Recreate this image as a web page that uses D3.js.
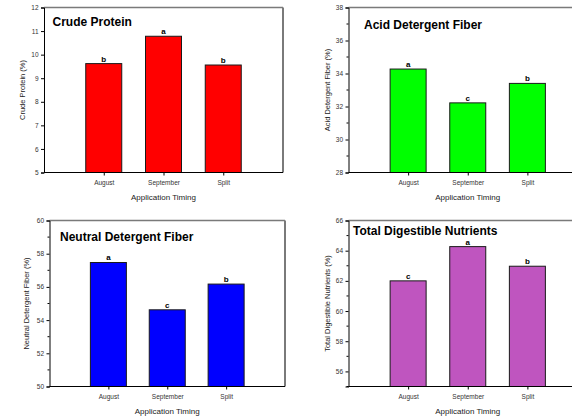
<!DOCTYPE html>
<html>
<head>
<meta charset="UTF-8">
<script src="https://cdnjs.cloudflare.com/ajax/libs/d3/7.8.5/d3.min.js"></script>
<style>
body { margin: 0; background: white; }
svg { display: block; font-family: 'Liberation Sans', Arial, sans-serif; }
</style>
</head>
<body>
<script>
// data
var categories = ["August", "September", "Split"];

var cpValues = [9.62, 10.78, 9.56];
var cpLetters = ["b", "a", "b"];

var adfValues = [34.27, 32.22, 33.40];
var adfLetters = ["a", "c", "b"];

var ndfValues = [57.47, 54.62, 56.17];
var ndfLetters = ["a", "c", "b"];

var tdnValues = [62.00, 64.27, 62.97];
var tdnLetters = ["c", "a", "b"];

var width = 572, height = 417;

var svg = d3.select("body").append("svg")
    .attr("width", width)
    .attr("height", height);

var panels = [
  { title: "Crude Protein", ylab: "Crude Protein (%)", values: cpValues, letters: cpLetters,
    fill: "#ff0000", domain: [5, 12], major: 1, minor: 0,
    x0: 44, x1: 283, y0: 7.5, y1: 172.5, tx: 52.5, ty: 25.5, yoff: 22 },
  { title: "Acid Detergent Fiber", ylab: "Acid Detergent Fiber (%)", values: adfValues, letters: adfLetters,
    fill: "#00ff00", domain: [28, 38], major: 2, minor: 1,
    x0: 348.5, x1: 587, y0: 7.5, y1: 172.5, tx: 364, ty: 29, yoff: 22 },
  { title: "Neutral Detergent Fiber", ylab: "Neutral Detergent Fiber (%)", values: ndfValues, letters: ndfLetters,
    fill: "#0000ff", domain: [50, 60], major: 2, minor: 1,
    x0: 49.5, x1: 285, y0: 220.5, y1: 386.5, tx: 60, ty: 240.5, yoff: 24 },
  { title: "Total Digestible Nutrients", ylab: "Total Digestible Nutrients (%)", values: tdnValues, letters: tdnLetters,
    fill: "#bf55bf", domain: [55, 66], major: 2, minor: 1,
    x0: 348.5, x1: 587, y0: 220.5, y1: 386.5, tx: 353, ty: 235, yoff: 22 }
];

panels.forEach(drawPanel);

function drawPanel(p) {
  var g = svg.append("g");

  var x = d3.scaleLinear().domain([0, categories.length + 1]).range([p.x0, p.x1]);
  var y = d3.scaleLinear().domain(p.domain).range([p.y1, p.y0]);
  var barW = 36;

  // frame top + right (grey)
  g.append("line")
      .attr("x1", p.x0).attr("x2", p.x1)
      .attr("y1", p.y0).attr("y2", p.y0)
      .attr("stroke", "#7a7a7a").attr("stroke-width", 1.5);
  g.append("line")
      .attr("x1", p.x1).attr("x2", p.x1)
      .attr("y1", p.y0).attr("y2", p.y1)
      .attr("stroke", "#7a7a7a").attr("stroke-width", 2);

  // bars
  g.selectAll("rect.bar")
      .data(p.values)
      .enter().append("rect")
      .attr("class", "bar")
      .attr("x", function(d, i) { return x(i + 1) - barW / 2; })
      .attr("y", function(d) { return y(d); })
      .attr("width", barW)
      .attr("height", function(d) { return y(p.domain[0]) - y(d); })
      .attr("fill", p.fill)
      .attr("stroke", "#1a1a1a")
      .attr("stroke-width", 1);

  // significance letters
  g.selectAll("text.letter")
      .data(p.values)
      .enter().append("text")
      .attr("class", "letter")
      .attr("x", function(d, i) { return x(i + 1); })
      .attr("y", function(d) { return y(d) - 2; })
      .attr("text-anchor", "middle")
      .attr("font-size", 8)
      .attr("font-weight", "bold")
      .text(function(d, i) { return p.letters[i]; });

  // y axis
  var majors = d3.range(Math.ceil(p.domain[0] / p.major) * p.major, p.domain[1] + 0.001, p.major);
  var yAxis = d3.axisLeft(y).tickValues(majors).tickSize(3).tickPadding(2.5)
      .tickFormat(d3.format("d"));
  var ya = g.append("g")
      .attr("transform", "translate(" + p.x0 + ",0)")
      .call(yAxis);
  ya.select(".domain").attr("stroke", "#000");
  ya.selectAll("text").attr("font-size", 6.5).attr("fill", "#333")
      .attr("font-family", "'Liberation Sans', Arial, sans-serif");

  if (p.minor) {
    var minors = d3.range(Math.ceil(p.domain[0]), p.domain[1], p.minor)
        .filter(function(v) { return majors.indexOf(v) < 0; });
    ya.selectAll("line.minor")
        .data(minors)
        .enter().append("line")
        .attr("class", "minor")
        .attr("x1", -2).attr("x2", 0)
        .attr("y1", function(d) { return y(d); })
        .attr("y2", function(d) { return y(d); })
        .attr("stroke", "#000");
  }

  // x axis
  var xAxis = d3.axisBottom(x).tickValues([1, 2, 3]).tickSize(3).tickPadding(4.5)
      .tickFormat(function(d) { return categories[d - 1]; });
  var xa = g.append("g")
      .attr("transform", "translate(0," + p.y1 + ")")
      .call(xAxis);
  xa.select(".domain").attr("d", "M" + p.x0 + ",0H" + p.x1).attr("stroke", "#000");
  xa.selectAll("text").attr("font-size", 6.5).attr("fill", "#333")
      .attr("font-family", "'Liberation Sans', Arial, sans-serif");

  // axis titles
  g.append("text")
      .attr("x", x(2))
      .attr("y", p.y1 + 27)
      .attr("text-anchor", "middle")
      .attr("font-size", 8)
      .attr("fill", "#222")
      .text("Application Timing");

  g.append("text")
      .attr("transform", "translate(" + (p.x0 - p.yoff + 3) + "," + ((p.y0 + p.y1) / 2) + ") rotate(-90)")
      .attr("text-anchor", "middle")
      .attr("font-size", 7.5)
      .attr("fill", "#222")
      .text(p.ylab);

  // panel title
  g.append("text")
      .attr("x", p.tx)
      .attr("y", p.ty)
      .attr("font-size", 12)
      .attr("font-weight", "bold")
      .text(p.title);
}
</script>
</body>
</html>
